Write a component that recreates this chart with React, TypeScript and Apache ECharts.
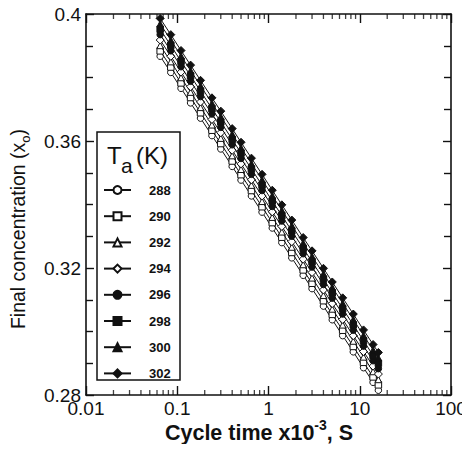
import React, { useEffect, useRef } from "react";
import * as echarts from "echarts";

// Cycle time (x10^-3 s) sample points
const cycleTime = [0.065, 0.085, 0.11, 0.14, 0.18, 0.24, 0.3, 0.4, 0.5, 0.65, 0.85, 1.1, 1.4, 1.8, 2.4, 3, 4, 5, 6.5, 8.5, 11, 14, 16];

// Final concentration per ambient temperature Ta (K)
const x288 = [0.3867, 0.3816, 0.3766, 0.3720, 0.3672, 0.3617, 0.3575, 0.3520, 0.3477, 0.3427, 0.3376, 0.3326, 0.3280, 0.3232, 0.3177, 0.3135, 0.3080, 0.3037, 0.2987, 0.2936, 0.2886, 0.2840, 0.2815];
const x290 = [0.3884, 0.3833, 0.3783, 0.3737, 0.3689, 0.3634, 0.3592, 0.3537, 0.3494, 0.3444, 0.3393, 0.3343, 0.3297, 0.3249, 0.3194, 0.3152, 0.3097, 0.3054, 0.3004, 0.2953, 0.2903, 0.2857, 0.2832];
const x292 = [0.3901, 0.3850, 0.3800, 0.3754, 0.3706, 0.3651, 0.3609, 0.3554, 0.3511, 0.3461, 0.3410, 0.3360, 0.3314, 0.3266, 0.3211, 0.3169, 0.3114, 0.3071, 0.3021, 0.2970, 0.2920, 0.2874, 0.2849];
const x294 = [0.3918, 0.3867, 0.3817, 0.3771, 0.3723, 0.3668, 0.3626, 0.3571, 0.3528, 0.3478, 0.3427, 0.3377, 0.3331, 0.3283, 0.3228, 0.3186, 0.3131, 0.3088, 0.3038, 0.2987, 0.2937, 0.2891, 0.2866];
const x296 = [0.3935, 0.3884, 0.3834, 0.3788, 0.3740, 0.3685, 0.3643, 0.3588, 0.3545, 0.3495, 0.3444, 0.3394, 0.3348, 0.3300, 0.3245, 0.3203, 0.3148, 0.3105, 0.3055, 0.3004, 0.2954, 0.2908, 0.2883];
const x298 = [0.3952, 0.3901, 0.3851, 0.3805, 0.3757, 0.3702, 0.3660, 0.3605, 0.3562, 0.3512, 0.3461, 0.3411, 0.3365, 0.3317, 0.3262, 0.3220, 0.3165, 0.3122, 0.3072, 0.3021, 0.2971, 0.2925, 0.2900];
const x300 = [0.3969, 0.3918, 0.3868, 0.3822, 0.3774, 0.3719, 0.3677, 0.3622, 0.3579, 0.3529, 0.3478, 0.3428, 0.3382, 0.3334, 0.3279, 0.3237, 0.3182, 0.3139, 0.3089, 0.3038, 0.2988, 0.2942, 0.2917];
const x302 = [0.3986, 0.3935, 0.3885, 0.3839, 0.3791, 0.3736, 0.3694, 0.3639, 0.3596, 0.3546, 0.3495, 0.3445, 0.3399, 0.3351, 0.3296, 0.3254, 0.3199, 0.3156, 0.3106, 0.3055, 0.3005, 0.2959, 0.2934];

const temperatures = ["288", "290", "292", "294", "296", "298", "300", "302"];
const seriesValues = [x288, x290, x292, x294, x296, x298, x300, x302];
const symbols = ["circle", "rect", "triangle", "diamond", "circle", "rect", "triangle", "diamond"];
const fills = ["#fff", "#fff", "#fff", "#fff", "#111", "#111", "#111", "#111"];

// Minor log ticks on the x axis
const minorTicksX = [
  0.02, 0.03, 0.04, 0.05, 0.06, 0.07, 0.08, 0.09,
  0.2, 0.3, 0.4, 0.5, 0.6, 0.7, 0.8, 0.9,
  2, 3, 4, 5, 6, 7, 8, 9,
  20, 30, 40, 50, 60, 70, 80, 90,
];

const FONT = "'Liberation Sans', Arial, Helvetica, sans-serif";
const INK = "#111";

export default function App() {
  const ref = useRef<HTMLDivElement>(null);

  useEffect(() => {
    if (!ref.current) return;
    const chart = echarts.init(ref.current, null, { renderer: "svg" });

    const lineSeries = temperatures.map((t, i) => ({
      name: t,
      type: "line",
      xAxisIndex: 0,
      yAxisIndex: 0,
      data: cycleTime.map((c, j) => [c, seriesValues[i][j]]),
      symbol: symbols[i],
      symbolSize: i === 3 || i === 7 ? 8 : 6.5,
      showSymbol: true,
      lineStyle: { color: INK, width: 1 },
      itemStyle: { color: fills[i], borderColor: INK, borderWidth: 1 },
      emphasis: { disabled: true },
      z: 2 + i * 0.1,
    }));

    const tickSeries = [
      {
        type: "scatter",
        silent: true,
        clip: false,
        data: minorTicksX.map((v) => [v, 0.28]),
        symbol: "rect",
        symbolSize: [1.3, 5],
        symbolOffset: [0, -2.5],
        itemStyle: { color: INK },
        z: 5,
      },
      {
        type: "scatter",
        silent: true,
        clip: false,
        data: minorTicksX.map((v) => [v, 0.4]),
        symbol: "rect",
        symbolSize: [1.3, 5],
        symbolOffset: [0, 2.5],
        itemStyle: { color: INK },
        z: 5,
      },
    ];

    const axisLine = { show: true, lineStyle: { color: INK, width: 1.6 } };

    chart.setOption({
      animation: false,
      backgroundColor: "#fff",
      textStyle: { fontFamily: FONT, color: INK },
      grid: { left: 86, right: 19, top: 14, bottom: 57, containLabel: false },
      xAxis: [
        {
          type: "log",
          logBase: 10,
          min: 0.01,
          max: 100,
          position: "bottom",
          axisLine,
          axisTick: { show: true, inside: true, length: 9, lineStyle: { color: INK, width: 1.4 } },
          axisLabel: {
            show: true,
            color: INK,
            fontSize: 19,
            fontFamily: FONT,
            margin: 4,
            formatter: (v: number) => String(v),
          },
          splitLine: { show: false },
        },
        {
          type: "log",
          logBase: 10,
          min: 0.01,
          max: 100,
          position: "top",
          axisLine,
          axisTick: { show: true, inside: true, length: 9, lineStyle: { color: INK, width: 1.4 } },
          axisLabel: { show: false },
          splitLine: { show: false },
        },
      ],
      yAxis: [
        {
          type: "value",
          min: 0.28,
          max: 0.4,
          interval: 0.04,
          position: "left",
          axisLine,
          axisTick: { show: true, inside: true, length: 8, lineStyle: { color: INK, width: 1.4 } },
          minorTick: { show: true, splitNumber: 4, length: 7, lineStyle: { color: INK, width: 1.4 } },
          axisLabel: {
            show: true,
            color: INK,
            fontSize: 19,
            fontFamily: FONT,
            margin: 5,
            formatter: (v: number) => String(Number(v.toFixed(2))),
          },
          splitLine: { show: false },
          minorSplitLine: { show: false },
        },
        {
          type: "value",
          min: 0.28,
          max: 0.4,
          interval: 0.04,
          position: "right",
          axisLine,
          axisTick: { show: true, inside: true, length: 8, lineStyle: { color: INK, width: 1.4 } },
          minorTick: { show: true, splitNumber: 4, length: 7, lineStyle: { color: INK, width: 1.4 } },
          axisLabel: { show: false },
          splitLine: { show: false },
          minorSplitLine: { show: false },
        },
      ],
      legend: {
        show: true,
        orient: "vertical",
        left: 103,
        top: 182,
        data: temperatures,
        itemWidth: 27,
        itemHeight: 10,
        itemGap: 10.2,
        selectedMode: false,
        padding: 0,
        z: 10,
        formatter: (name: string) => "{t|" + name + "}",
        textStyle: {
          color: INK,
          fontSize: 13,
          fontWeight: "bold",
          fontFamily: FONT,
          lineHeight: 16,
          rich: {
            t: { fontSize: 13, fontWeight: "bold", lineHeight: 16, padding: [0, 0, 0, 13], color: INK, fontFamily: FONT },
          },
        },
      },
      graphic: [
        {
          type: "rect",
          z: 1,
          shape: { x: 97, y: 132, width: 83, height: 248 },
          style: { fill: "#fff", stroke: INK, lineWidth: 1.5 },
        },
        {
          type: "text",
          z: 20,
          x: 107,
          y: 155,
          style: { text: "T", fontSize: 24, fontFamily: FONT, fill: INK, verticalAlign: "middle" },
        },
        {
          type: "text",
          z: 20,
          x: 121,
          y: 165,
          style: { text: "a", fontSize: 21, fontFamily: FONT, fill: INK, verticalAlign: "middle" },
        },
        {
          type: "text",
          z: 20,
          x: 136,
          y: 155,
          style: { text: "(K)", fontSize: 24, fontFamily: FONT, fill: INK, verticalAlign: "middle" },
        },
        {
          type: "text",
          z: 20,
          x: 259,
          y: 431,
          style: {
            text: "{m|Cycle time x10}{sup|-3}{m|, S}",
            align: "center",
            verticalAlign: "middle",
            rich: {
              m: { fontSize: 21.5, fontWeight: "bold", lineHeight: 26, fill: INK, fontFamily: FONT, verticalAlign: "bottom" },
              sup: { fontSize: 14, fontWeight: "bold", lineHeight: 14, fill: INK, fontFamily: FONT, verticalAlign: "top" },
            },
          },
        },
        {
          type: "text",
          z: 20,
          x: 20,
          y: 229,
          rotation: Math.PI / 2,
          style: {
            text: "{m|Final concentration (x}{sub|o}{m|)}",
            align: "center",
            verticalAlign: "middle",
            rich: {
              m: { fontSize: 19.5, lineHeight: 24, fill: INK, fontFamily: FONT, verticalAlign: "top" },
              sub: { fontSize: 13, lineHeight: 13, fill: INK, fontFamily: FONT, verticalAlign: "bottom" },
            },
          },
        },
      ],
      series: [...lineSeries, ...tickSeries],
    });

    return () => chart.dispose();
  }, []);

  return <div ref={ref} style={{ width: 470, height: 452, margin: -8 }} />;
}
